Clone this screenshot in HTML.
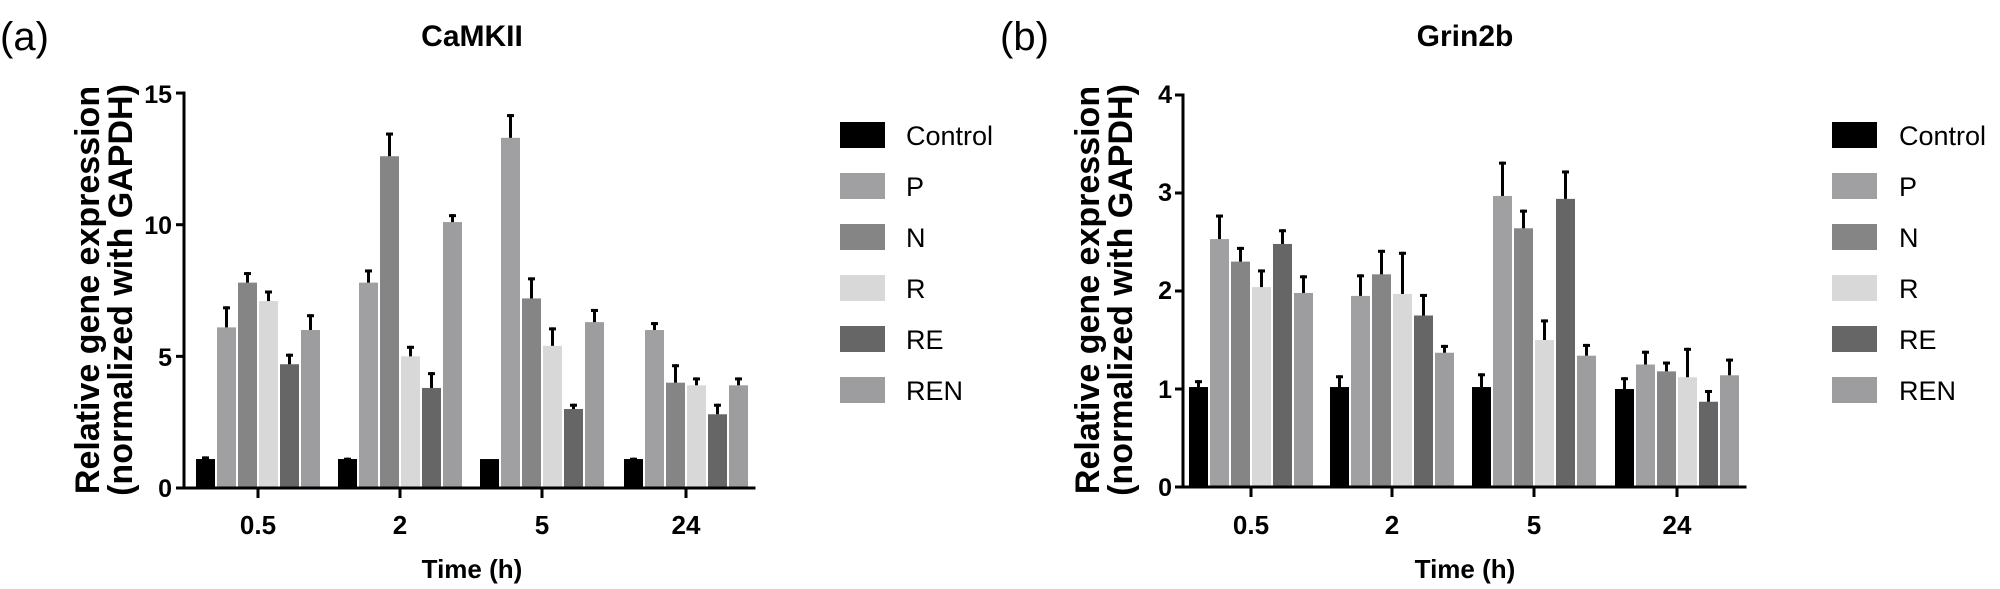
<!DOCTYPE html>
<html><head><meta charset="utf-8"><style>
html,body{margin:0;padding:0;background:#fff;}
svg{display:block;font-family:"Liberation Sans",Arial,sans-serif;}
</style></head><body>
<svg id="s" width="2000" height="589" viewBox="0 0 2000 589" xmlns="http://www.w3.org/2000/svg">
<text x="0" y="50" font-size="40">(a)</text>
<text x="1000" y="50" font-size="40">(b)</text>
<text x="472" y="46" font-size="30" font-weight="bold" text-anchor="middle">CaMKII</text>
<text x="1465" y="46" font-size="30" font-weight="bold" text-anchor="middle">Grin2b</text>
<text transform="translate(99,290) rotate(-90)" font-size="34" font-weight="bold" text-anchor="middle">Relative gene expression</text>
<text transform="translate(132,290) rotate(-90)" font-size="34" font-weight="bold" text-anchor="middle">(normalized with GAPDH)</text>
<text transform="translate(1099,290) rotate(-90)" font-size="34" font-weight="bold" text-anchor="middle">Relative gene expression</text>
<text transform="translate(1132,290) rotate(-90)" font-size="34" font-weight="bold" text-anchor="middle">(normalized with GAPDH)</text>
<g font-size="25" font-weight="bold" text-anchor="end">
<text x="172" y="103">15</text><text x="172" y="234">10</text><text x="172" y="366">5</text><text x="172" y="497">0</text>
<text x="1172" y="103">4</text><text x="1172" y="201">3</text><text x="1172" y="299">2</text><text x="1172" y="398">1</text><text x="1172" y="496">0</text>
</g>
<g font-size="26" font-weight="bold" text-anchor="middle">
<text x="258" y="534">0.5</text><text x="400" y="534">2</text><text x="542" y="534">5</text><text x="686" y="534">24</text>
<text x="1251" y="534">0.5</text><text x="1392" y="534">2</text><text x="1534" y="534">5</text><text x="1677" y="534">24</text>
<text x="472" y="578">Time (h)</text><text x="1465" y="578">Time (h)</text>
</g>
<g font-size="27">
<text x="906" y="145">Control</text><text x="906" y="196">P</text><text x="906" y="247">N</text><text x="906" y="298">R</text><text x="906" y="349">RE</text><text x="906" y="400">REN</text>
<text x="1899" y="145">Control</text><text x="1899" y="196">P</text><text x="1899" y="247">N</text><text x="1899" y="298">R</text><text x="1899" y="349">RE</text><text x="1899" y="400">REN</text>
</g>
<g id="g"></g>
</svg>
<script>
var cols=["#000","#a0a0a2","#858585","#d8d8d8","#666","#9d9d9f"];
var g=document.getElementById("g"),h="";
function R(x,y,w,hh,f){h+='<rect x="'+x+'" y="'+y+'" width="'+w+'" height="'+hh+'" fill="'+f+'"/>';}
function chart(ax,ticks,y0,ppu,max,step,data,lx){
  var ytop=y0-max*ppu;
  for(var v=0;v<=max+1e-9;v+=step){R(ax-8,y0-v*ppu-1.5,8,3,"#000");}
  ticks.forEach(function(t,gi){
    R(t-1.5,y0,3,10,"#000");
    var s=t-63;
    data[gi].forEach(function(d,i){
      var x=s+i*21,top=y0-d[0]*ppu;
      R(x+1,top,19,y0-top,cols[i]);
      if(d[1]>0){var et=y0-(d[0]+d[1])*ppu;R(x+9,et,3,top-et,"#000");R(x+7,et,7,3,"#000");}
    });
  });
  R(ax-1.5,ytop-1.5,3,y0-ytop+3,"#000");
  R(ax-1.5,y0-1.5,ticks[3]+71-ax,3,"#000");
  for(var i=0;i<6;i++)R(lx,122+i*51,45,26,cols[i]);
}
chart(184,[258,400,542,686],488,26.33,15,5,[
[[1.1,.1],[6.1,.8],[7.8,.4],[7.1,.4],[4.7,.4],[6.0,.6]],
[[1.1,.05],[7.8,.5],[12.6,.9],[5.0,.4],[3.8,.6],[10.1,.3]],
[[1.1,0],[13.3,.9],[7.2,.8],[5.4,.7],[3.0,.2],[6.3,.5]],
[[1.1,.05],[6.0,.3],[4.0,.7],[3.9,.3],[2.8,.4],[3.9,.3]]],840);
chart(1183,[1251,1392,1534,1677],487,98,4,1,[
[[1.02,.07],[2.53,.25],[2.3,.15],[2.04,.18],[2.48,.15],[1.98,.18]],
[[1.02,.12],[1.95,.22],[2.17,.25],[1.97,.43],[1.75,.22],[1.37,.08]],
[[1.02,.14],[2.97,.35],[2.64,.19],[1.5,.21],[2.94,.29],[1.34,.12]],
[[1.0,.12],[1.25,.14],[1.18,.1],[1.12,.3],[.87,.12],[1.14,.17]]],1832);
g.innerHTML=h;
</script>
</body></html>
